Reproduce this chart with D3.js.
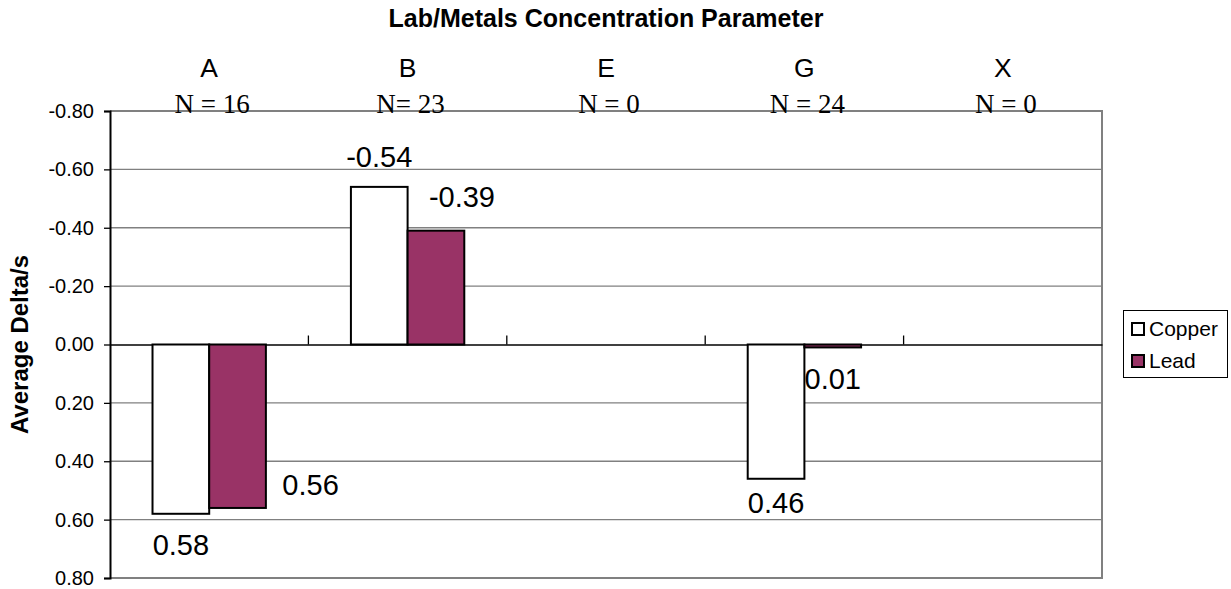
<!DOCTYPE html>
<html>
<head>
<meta charset="utf-8">
<script src="https://cdn.jsdelivr.net/npm/d3@7"></script>
<style>
  html, body { margin: 0; padding: 0; background: #fff; }
  svg { display: block; font-family: Arial, "Liberation Sans", sans-serif; }
</style>
</head>
<body>
<svg id="chart" width="1231" height="589"></svg>
<script>
// Lab categories and sample counts
const labs = ["A", "B", "E", "G", "X"];
const sampleCounts = ["N = 16", "N= 23", "N = 0", "N = 24", "N = 0"];

// Average delta per lab (null = no samples)
const copper = [0.58, -0.54, null, 0.46, null];
const lead   = [0.56, -0.39, null, 0.01, null];

const seriesNames = ["Copper", "Lead"];
const seriesColors = ["#ffffff", "#993366"];
const yTicks = [-0.8, -0.6, -0.4, -0.2, 0, 0.2, 0.4, 0.6, 0.8];

const chartTitle = "Lab/Metals Concentration Parameter";
const yTitle = "Average Delta/s";

// Hand-placed value label nudges (pixels from the bar end), per series per lab
const labelNudge = [
  [[0, 41], [0, -20], null, [0, 34], null],
  [[73, -13], [26, -24], null, [0, 42], null]
];

const svg = d3.select("#chart");
const plot = { left: 110, right: 1102, top: 111, bottom: 578 };

const x0 = d3.scaleBand().domain(labs).range([plot.left, plot.right]).paddingInner(0).paddingOuter(0);
const cw = x0.bandwidth();
const bw = cw / 3.5;
const x1 = d3.scaleBand().domain(seriesNames).range([(cw - 2 * bw) / 2, (cw + 2 * bw) / 2]);

// reversed value axis: negative values at the top
const y = d3.scaleLinear().domain([-0.8, 0.8]).range([plot.top, plot.bottom]);
const fmt2 = d3.format(".2f");
const fmt = v => fmt2(v).replace("\u2212", "-");

// gridlines
svg.append("g")
  .selectAll("line")
  .data(yTicks.filter(t => t !== 0 && t !== -0.8 && t !== 0.8))
  .join("line")
  .attr("x1", plot.left).attr("x2", plot.right)
  .attr("y1", d => y(d)).attr("y2", d => y(d))
  .attr("stroke", "#808080").attr("stroke-width", 1.3);

// plot border (top, right, bottom)
svg.append("path")
  .attr("d", `M${plot.left},${y(-0.8)}H${plot.right}V${y(0.8)}H${plot.left}`)
  .attr("fill", "none").attr("stroke", "#808080").attr("stroke-width", 2);

// y axis
const yAxis = d3.axisLeft(y).tickValues(yTicks).tickFormat(fmt).tickSize(6).tickPadding(10);
const gy = svg.append("g").attr("transform", `translate(${plot.left},0)`).call(yAxis);
gy.select(".domain").attr("stroke", "#000").attr("stroke-width", 2);
gy.selectAll(".tick line").attr("stroke", "#000").attr("stroke-width", 1.3);
gy.selectAll(".tick text")
  .attr("font-size", 20).attr("fill", "#000")
  .attr("font-family", "Arial, 'Liberation Sans', sans-serif");

// category axis on the zero line, ticks pointing up
const xAxis = d3.axisTop(x0).tickValues([]).tickSize(0);
const gx = svg.append("g").attr("transform", `translate(0,${y(0)})`).call(xAxis);
gx.select(".domain").attr("stroke", "#000").attr("stroke-width", 1.5);
gx.selectAll("line.boundary")
  .data(labs.slice(1))
  .join("line")
  .attr("class", "boundary")
  .attr("x1", d => x0(d)).attr("x2", d => x0(d))
  .attr("y1", 0).attr("y2", -9)
  .attr("stroke", "#000").attr("stroke-width", 1.3);

// value labels (drawn under the bars)
const series = [copper, lead];
const labelG = svg.append("g");
series.forEach((vals, si) => {
  vals.forEach((v, ci) => {
    if (v === null) return;
    const nd = labelNudge[si][ci];
    const cx = x0(labs[ci]) + x1(seriesNames[si]) + x1.bandwidth() / 2;
    labelG.append("text")
      .attr("x", cx + nd[0])
      .attr("y", y(v) + nd[1])
      .attr("text-anchor", "middle")
      .attr("font-size", 29)
      .attr("fill", "#000")
      .text(fmt(v));
  });
});

// bars
const barG = svg.append("g");
series.forEach((vals, si) => {
  barG.append("g")
    .selectAll("rect")
    .data(vals.map((v, ci) => ({ v, lab: labs[ci] })).filter(d => d.v !== null))
    .join("rect")
    .attr("x", d => x0(d.lab) + x1(seriesNames[si]))
    .attr("width", x1.bandwidth())
    .attr("y", d => Math.min(y(0), y(d.v)))
    .attr("height", d => Math.max(Math.abs(y(d.v) - y(0)), 1))
    .attr("fill", seriesColors[si])
    .attr("stroke", "#000")
    .attr("stroke-width", 2);
});

// category letters and counts above the plot
svg.append("g")
  .selectAll("text")
  .data(labs)
  .join("text")
  .attr("x", d => x0(d) + cw / 2)
  .attr("y", 77)
  .attr("text-anchor", "middle")
  .attr("font-size", 26.5)
  .attr("fill", "#000")
  .text(d => d);

svg.append("g")
  .selectAll("text")
  .data(sampleCounts)
  .join("text")
  .attr("x", (d, i) => x0(labs[i]) + cw / 2 + 3)
  .attr("y", 113)
  .attr("text-anchor", "middle")
  .attr("font-family", "'Liberation Serif', 'Times New Roman', serif")
  .attr("font-size", 27)
  .attr("fill", "#000")
  .text(d => d);

// title
svg.append("text")
  .attr("x", (plot.left + plot.right) / 2)
  .attr("y", 27)
  .attr("text-anchor", "middle")
  .attr("font-size", 25)
  .attr("font-weight", "bold")
  .attr("fill", "#000")
  .text(chartTitle);

// y axis title
svg.append("text")
  .attr("transform", `translate(28,${(y(-0.8) + y(0.8)) / 2}) rotate(-90)`)
  .attr("text-anchor", "middle")
  .attr("font-size", 24)
  .attr("font-weight", "bold")
  .attr("fill", "#000")
  .text(yTitle);

// legend
const legend = svg.append("g");
legend.append("rect")
  .attr("x", 1123.5).attr("y", 310.5).attr("width", 104).attr("height", 67)
  .attr("fill", "#fff").attr("stroke", "#000").attr("stroke-width", 1);
seriesNames.forEach((name, i) => {
  legend.append("rect")
    .attr("x", 1132).attr("y", 323 + i * 32).attr("width", 12).attr("height", 12)
    .attr("fill", seriesColors[i]).attr("stroke", "#000").attr("stroke-width", 2);
  legend.append("text")
    .attr("x", 1149).attr("y", 336 + i * 32)
    .attr("font-size", 21).attr("fill", "#000")
    .text(name);
});
</script>
</body>
</html>
